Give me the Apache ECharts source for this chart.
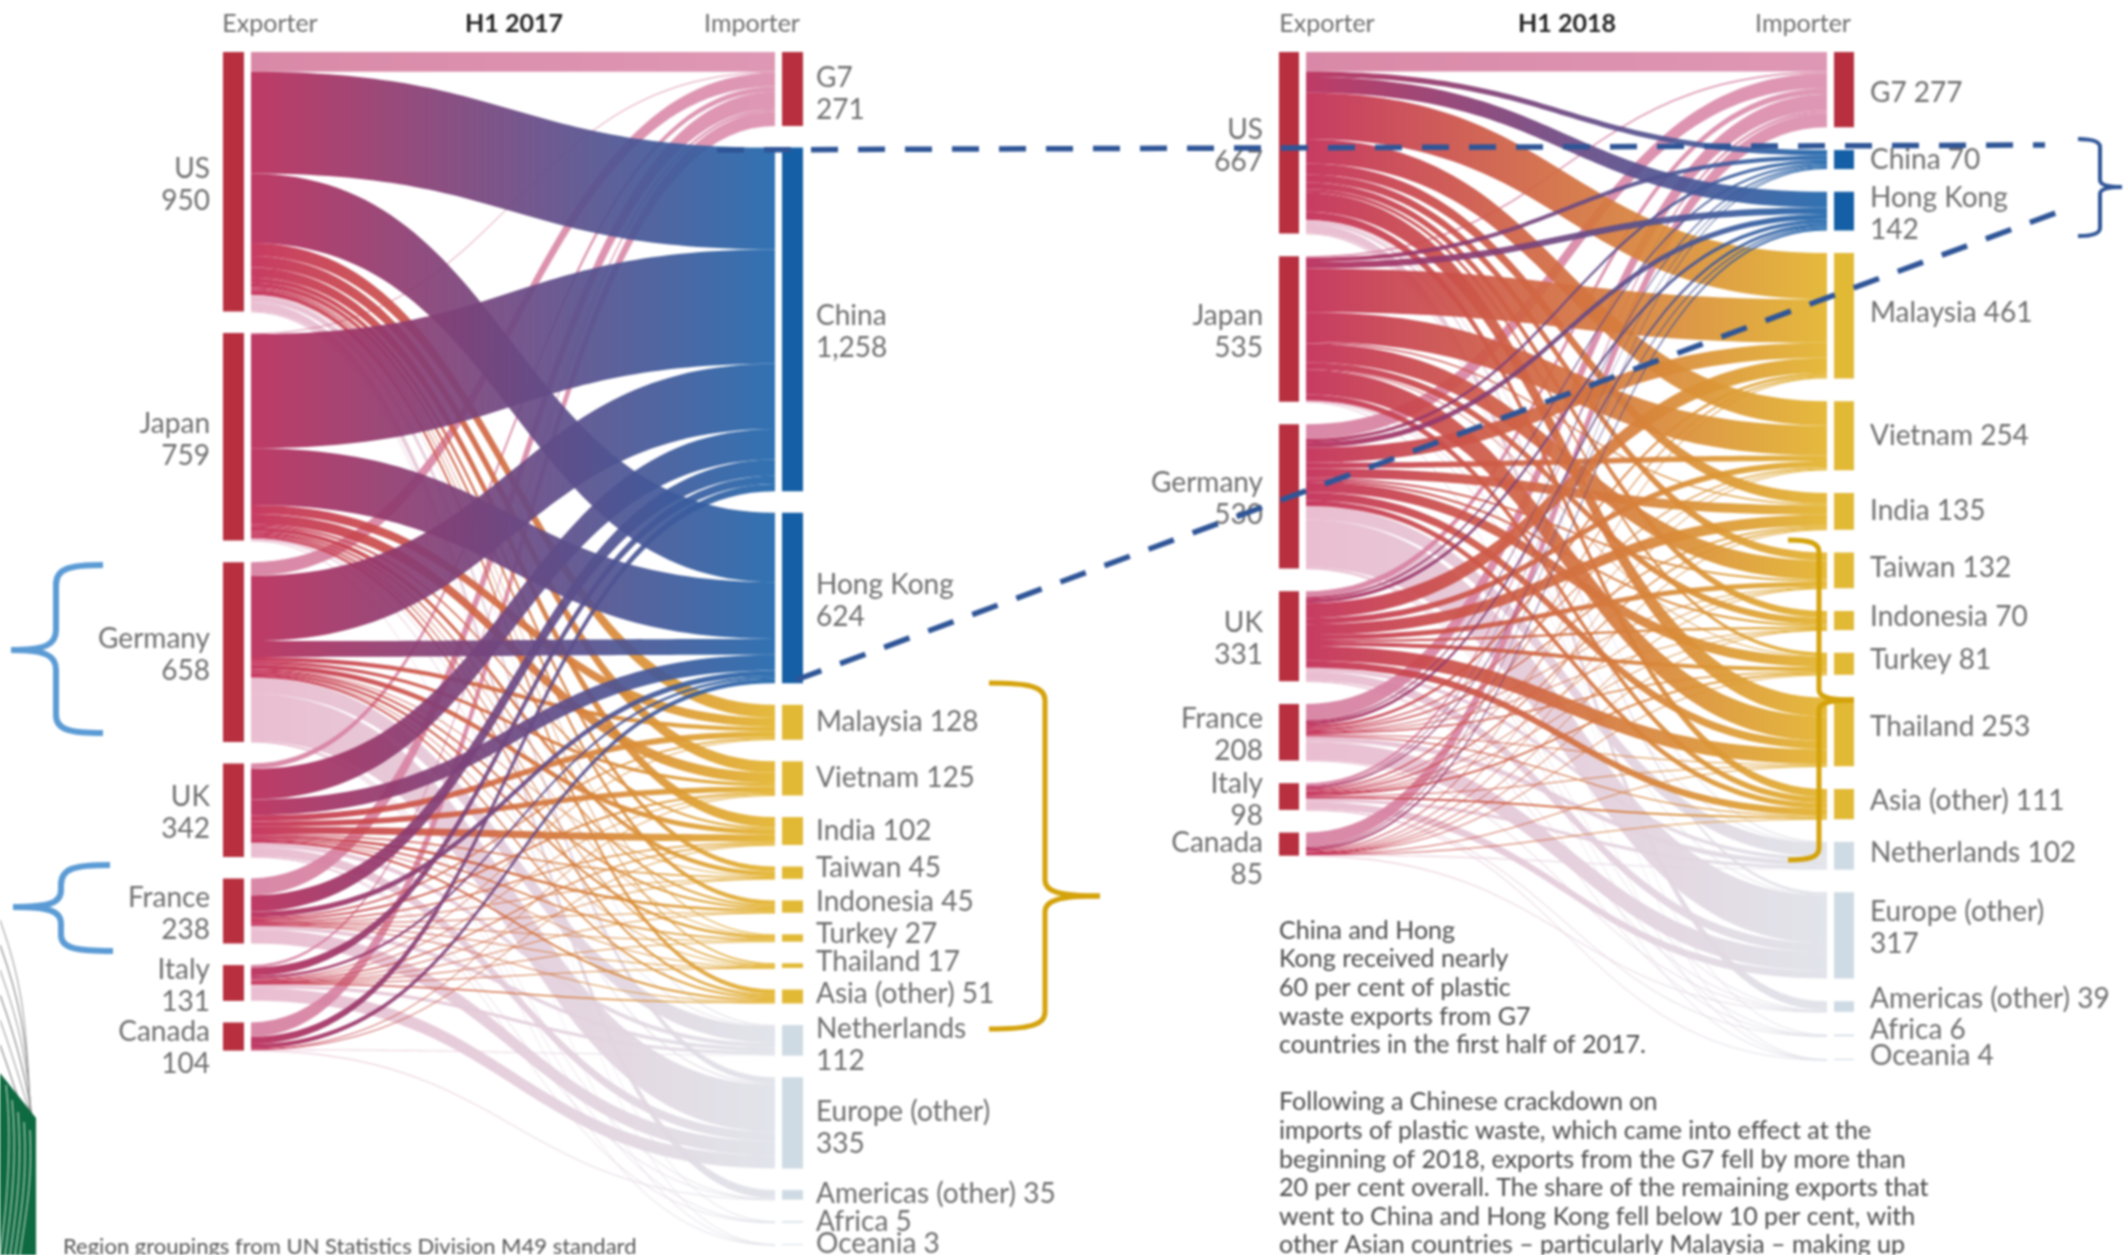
<!DOCTYPE html>
<html>
<head>
<meta charset="utf-8">
<style>
html,body{margin:0;padding:0;background:#fff;width:2126px;height:1255px;overflow:hidden}
#c{width:2126px;height:1255px;filter:blur(0.8px)}
</style>
<script src="https://cdn.jsdelivr.net/npm/echarts@6/dist/echarts.min.js"></script>
</head>
<body>
<div id="c"></div>
<script>
const importerNames = ['G7','China','Hong Kong','Malaysia','Vietnam','India','Taiwan','Indonesia','Turkey','Thailand','Asia (other)','Netherlands','Europe (other)','Americas (other)','Africa','Oceania'];
const importerValues2017 = ['271','1,258','624','128','125','102','45','45','27','17','51','112','335','35','5','3'];
const importerTwoLine2017 = ['G7','China','Hong Kong','Netherlands','Europe (other)'];
const importerValues2018 = ['277','70','142','461','254','135','132','70','81','253','111','102','317','39','6','4'];
const importerTwoLine2018 = ['Hong Kong','Europe (other)'];
const exporterNames = ['US','Japan','Germany','UK','France','Italy','Canada'];
const exporterValues2017 = ['950','759','658','342','238','131','104'];
const exporterValues2018 = ['667','535','530','331','208','98','85'];

// rows follow exporterNames, columns follow importerNames
const flowsUS2017      = [72,373,254,48,42,38,18,16,5,6,17,4,22,32,2,1];
const flowsJapan2017   = [4,418,208,33,38,8,17,8,1,6,10,2,6,0,0,1];
const flowsGermany2017 = [50,239,58,16,12,18,2,8,10,1,8,60,172,1,2,1];
const flowsUK2017      = [20,112,58,22,20,26,6,10,6,2,8,16,34,1,1,0];
const flowsFrance2017  = [62,60,20,6,8,6,1,2,3,1,3,14,52,0,0,0];
const flowsItaly2017   = [10,30,10,3,3,5,1,1,2,1,5,12,48,0,0,0];
const flowsCanada2017  = [53,26,16,0,2,1,0,0,0,0,0,4,0,1,0,0];
const flowsUS2018      = [72,20,58,170,90,40,30,25,12,70,30,4,10,33,2,1];
const flowsJapan2018   = [6,16,24,160,110,5,70,25,3,90,22,1,2,0,0,1];
const flowsGermany2018 = [54,12,20,55,20,35,8,8,38,30,20,50,175,2,2,1];
const flowsUK2018      = [22,8,14,55,22,40,18,8,14,55,25,14,33,2,1,0];
const flowsFrance2018  = [60,6,12,10,5,7,3,2,6,4,5,18,69,1,0,0];
const flowsItaly2018   = [11,3,6,6,4,6,2,1,7,3,7,12,28,0,1,1];
const flowsCanada2018  = [52,5,8,5,3,2,1,1,1,1,2,3,0,1,0,0];
const flows2017 = [flowsUS2017,flowsJapan2017,flowsGermany2017,flowsUK2017,flowsFrance2017,flowsItaly2017,flowsCanada2017];
const flows2018 = [flowsUS2018,flowsJapan2018,flowsGermany2018,flowsUK2018,flowsFrance2018,flowsItaly2018,flowsCanada2018];

// label nudges, in pixels, per importer
const labelShift2017 = [5,13,3,0,0,0,-5,-5,-4,-4,-3,5,5,-1,0,-1];
const labelShift2018 = [3,0,3,-3,0,0,-2,-4,-4,-5,-3,-3,-7,-8,-5,-3];

const groupOf = n => n === 'G7' ? 'g7' : (n === 'China' || n === 'Hong Kong') ? 'blue' :
  ['Netherlands','Europe (other)','Americas (other)','Africa','Oceania'].includes(n) ? 'pale' : 'asia';
const barColor = {g7:'#b8303f', blue:'#145fa6', asia:'#e2b935', pale:'#cfdbe4'};
const linkFrom = {g7:'#d67f9f', blue:'#b92a58', asia:'#c22a55', pale:'#e8b8cc'};
const linkTo   = {g7:'#dc8fae', blue:'#1f66ac', asia:'#e3b42c', pale:'#dfe2e9'};
const drawOrder = {pale:0, g7:1, asia:2, blue:3};
const TEXT = '#6e6e6e';
const FONT = 'Lato, "Noto Sans", sans-serif';

function barFill(color, gapFrac, gapOnRight) {
  const stops = gapOnRight
    ? [{offset:0,color},{offset:1-gapFrac,color},{offset:1-gapFrac,color:'#fff'},{offset:1,color:'#fff'}]
    : [{offset:0,color:'#fff'},{offset:gapFrac,color:'#fff'},{offset:gapFrac,color},{offset:1,color}];
  return {type:'linear',x:0,y:0,x2:1,y2:0,colorStops:stops};
}
function sankey(flows, expValues, impValues, twoLine, shifts, box, labelDist, canadaShift) {
  const gapFrac = 7 / box.nodeWidth;
  const nodes = [];
  exporterNames.forEach((n,i) => nodes.push({
    name:n, itemStyle:{color:barFill('#b8303f',gapFrac,true)},
    label:{position:'left',distance:labelDist,align:'right',formatter:n+'\n'+expValues[i],
      offset:n==='Canada'?[0,canadaShift]:[0,3]}
  }));
  importerNames.forEach((n,i) => nodes.push({
    name:n, itemStyle:{color:barFill(barColor[groupOf(n)],gapFrac,false)},
    label:{position:'right',distance:labelDist,align:'left',offset:[0,shifts[i]],
      formatter:n+(twoLine.includes(n)?'\n':' ')+impValues[i]}
  }));
  const links = [];
  flows.forEach((row,r) => row.forEach((v,c) => {
    if (v <= 0) return;
    const g = groupOf(importerNames[c]);
    links.push({source:exporterNames[r],target:importerNames[c],value:v,_o:drawOrder[g],
      lineStyle:{opacity:0.92,color:{type:'linear',x:0,y:0,x2:1,y2:0,
        colorStops:[{offset:0,color:linkFrom[g]},{offset:1,color:linkTo[g]}]}}});
  }));
  links.sort((a,b)=>a._o-b._o);
  return {
    type:'sankey',left:box.left,top:box.top,width:box.width,height:box.height,
    nodeWidth:box.nodeWidth,nodeGap:box.gap,layoutIterations:0,nodeAlign:'justify',
    draggable:false,roam:false,silent:true,animation:false,
    emphasis:{disabled:true},
    label:{show:true,color:TEXT,fontFamily:FONT,fontSize:28,lineHeight:32},
    lineStyle:{curveness:0.5},itemStyle:{borderWidth:0},
    data:nodes,links
  };
}

const txt = (x,y,text,extra={}) => ({type:'text',x,y,silent:true,
  style:Object.assign({text,fill:TEXT,font:'25px '+FONT,textAlign:'center',textVerticalAlign:'middle'},extra)});
function stroke(d,color,lineWidth,lineDash){
  const t = d.trim().split(/\s+/), out = []; let i=0, x=0, y=0;
  const style = {fill:null,stroke:color,lineWidth,lineDash:lineDash||null};
  const num = () => parseFloat(t[i++]);
  while(i<t.length){
    const cmd = t[i++];
    if(cmd==='M'){x=num();y=num();}
    else if(cmd==='L'){const a=num(),b=num();
      out.push({type:'line',silent:true,z:50,shape:{x1:x,y1:y,x2:a,y2:b},style});x=a;y=b;}
    else if(cmd==='C'){const c1=num(),c2=num(),c3=num(),c4=num(),a=num(),b=num();
      out.push({type:'bezierCurve',silent:true,z:50,shape:{x1:x,y1:y,cpx1:c1,cpy1:c2,cpx2:c3,cpy2:c4,x2:a,y2:b},style});x=a;y=b;}
  }
  return out;
}
const DARK = '#4a4a4a', BF = '25px '+FONT;
const para = [
 [931,'China and Hong'],[959,'Kong received nearly'],[988,'60 per cent of plastic'],[1017,'waste exports from G7'],[1045,'countries in the first half of 2017.'],
 [1102,'Following a Chinese crackdown on'],[1131,'imports of plastic waste, which came into effect at the'],[1160,'beginning of 2018, exports from the G7 fell by more than'],
 [1188,'20 per cent overall. The share of the remaining exports that'],[1217,'went to China and Hong Kong fell below 10 per cent, with'],[1245,'other Asian countries \u2013 particularly Malaysia \u2013 making up']
];
const graphics = [
 txt(270,24,'Exporter'), txt(514,24,'H1 2017',{fill:'#222',font:'bold 25px '+FONT}), txt(752,24,'Importer'),
 txt(1327,24,'Exporter'), txt(1567,24,'H1 2018',{fill:'#222',font:'bold 25px '+FONT}), txt(1803,24,'Importer'),
 txt(63,1247,'Region groupings from UN Statistics Division M49 standard',{textAlign:'left',font:'22px '+FONT,fill:'#555'}),
 ...para.map(p=>txt(1279,p[0],p[1],{textAlign:'left',font:BF,fill:DARK})),
 ...[920,945,970,995,1020,1045].flatMap((y,i)=>stroke(`M 0 ${y} C 18 ${y+50} 28 ${y+90} ${30+i} 1125`,i%2?'#8a8a8a':'#a8a8a8',1.2)),
 {type:'polygon',silent:true,z:60,shape:{points:[[0,1073],[36,1118],[36,1255],[0,1255]]},style:{fill:'#0e6a40'}},
 ...[1085,1100,1112,1122,1130].map((y,i)=>({type:'bezierCurve',silent:true,z:61,
    shape:{x1:6+i*6,y1:y,cpx1:12+i*5,cpy1:y+50,cpx2:8+i*5,cpy2:1200,x2:i*5,y2:1255},style:{fill:null,stroke:'#dfe9e2',lineWidth:1}})),
 ...stroke('M 717 150 L 2045 145','#2f5597',5.5,[27,20]),
 ...stroke('M 796 680 L 2061 211','#2f5597',5.5,[27,20]),
 ...stroke('M 103 565 C 70 565 56 568 56 585 L 56 630 C 56 645 45 650 11 650 C 45 650 56 655 56 670 L 56 715 C 56 730 70 733 103 733','#5b9bd5',6),
 ...stroke('M 110 865 C 75 865 61 868 61 885 L 61 890 C 61 903 50 907 13 907 C 50 907 61 911 61 924 L 61 935 C 61 948 75 951 113 951','#5b9bd5',6),
 ...stroke('M 989 683 C 1030 683 1045 687 1045 700 L 1045 880 C 1045 892 1060 896 1100 896 C 1060 896 1045 900 1045 912 L 1045 1012 C 1045 1025 1030 1029 989 1029','#d4a20a',5),
 ...stroke('M 2078 139 C 2092 139 2100 141 2100 147 L 2100 180 C 2100 185 2108 187 2122 187 C 2108 187 2100 189 2100 194 L 2100 228 C 2100 234 2092 236 2078 236','#2f5597',4),
 ...stroke('M 1788 540 C 1810 540 1819 543 1819 552 L 1819 690 C 1819 697 1830 700 1854 700 C 1830 700 1819 703 1819 710 L 1819 848 C 1819 857 1810 860 1788 860','#d4a20a',5)
];
const chart = echarts.init(document.getElementById('c'),null,{renderer:'canvas'});
chart.setOption({
  backgroundColor:'#fff',animation:false,tooltip:{show:false},
  series:[
    sankey(flows2017,exporterValues2017,importerValues2017,importerTwoLine2017,labelShift2017,{left:223,top:52,width:580,height:1193,nodeWidth:28,gap:21.6},13,11),
    sankey(flows2018,exporterValues2018,importerValues2018,importerTwoLine2018,labelShift2018,{left:1279,top:52,width:575,height:1008,nodeWidth:27,gap:22.7},16,15)
  ],
  graphic:graphics
});
</script>
</body>
</html>
